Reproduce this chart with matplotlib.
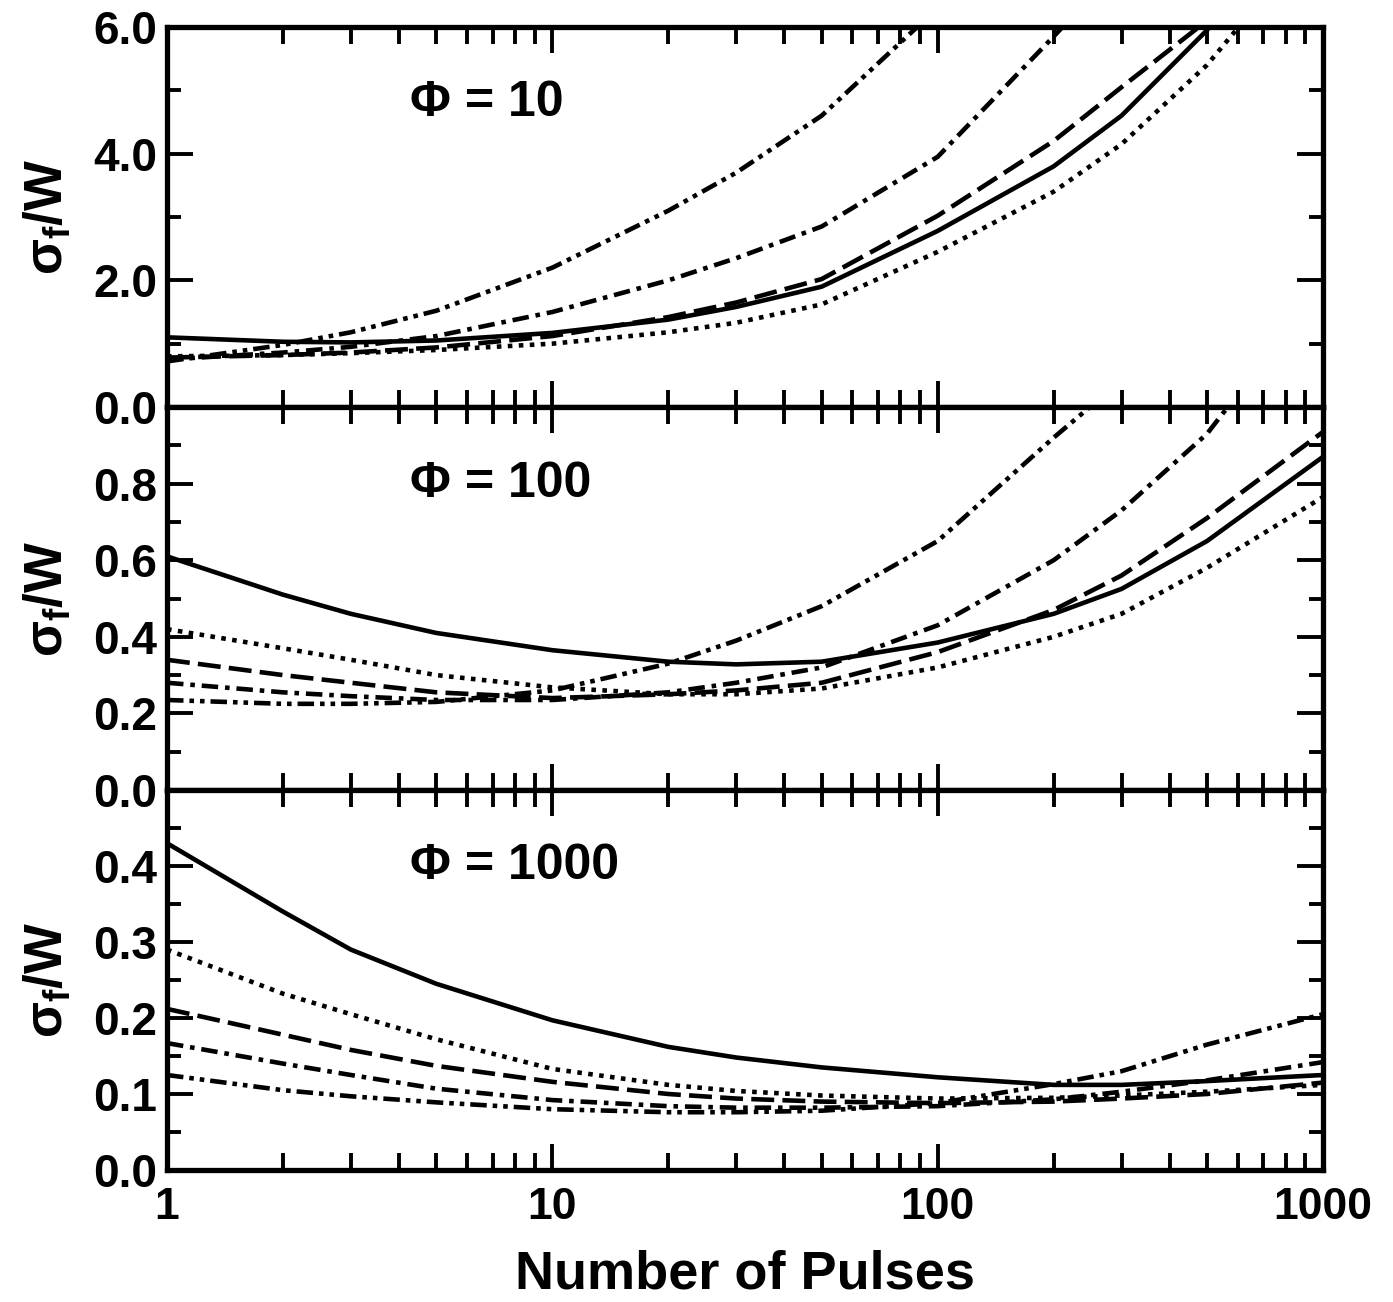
import matplotlib
matplotlib.use("Agg")
import matplotlib.pyplot as plt
from matplotlib.ticker import FixedLocator, NullFormatter

plt.rcParams['font.family'] = ['Liberation Sans', 'DejaVu Sans']
plt.rcParams['font.weight'] = 'bold'
plt.rcParams['mathtext.fontset'] = 'custom'
plt.rcParams['mathtext.rm'] = 'Liberation Sans:bold'
plt.rcParams['mathtext.it'] = 'Liberation Sans:bold'
plt.rcParams['mathtext.bf'] = 'Liberation Sans:bold'

# number of pulses
pulses = [1, 2, 3, 5, 10, 20, 30, 50, 100, 200, 300, 500, 1000]

# Phi = 10
phi10_solid = [1.10, 1.03, 1.02, 1.05, 1.17, 1.38, 1.58, 1.90, 2.78, 3.80, 4.60, 5.95, 8.3]
phi10_dot = [0.80, 0.82, 0.85, 0.90, 1.00, 1.18, 1.33, 1.62, 2.45, 3.40, 4.15, 5.40, 7.6]
phi10_dash = [0.78, 0.82, 0.86, 0.94, 1.12, 1.42, 1.65, 2.02, 3.02, 4.20, 5.05, 6.10, 8.8]
phi10_dashdot = [0.75, 0.86, 0.95, 1.12, 1.50, 2.00, 2.35, 2.85, 3.95, 5.85, 7.00, 9.0, 12.5]
phi10_dashdotdot = [0.72, 0.98, 1.18, 1.52, 2.20, 3.10, 3.70, 4.60, 6.30, 9.0, 11.0, 14.0, 18.0]

# Phi = 100
phi100_solid = [0.61, 0.51, 0.46, 0.41, 0.365, 0.335, 0.328, 0.335, 0.385, 0.46, 0.525, 0.65, 0.87]
phi100_dot = [0.42, 0.37, 0.34, 0.30, 0.268, 0.25, 0.25, 0.265, 0.32, 0.40, 0.46, 0.58, 0.765]
phi100_dash = [0.34, 0.30, 0.28, 0.255, 0.24, 0.25, 0.26, 0.28, 0.36, 0.47, 0.56, 0.71, 0.935]
phi100_dashdot = [0.28, 0.255, 0.245, 0.235, 0.235, 0.255, 0.28, 0.32, 0.43, 0.60, 0.73, 0.93, 1.32]
phi100_dashdotdot = [0.235, 0.225, 0.225, 0.23, 0.26, 0.33, 0.39, 0.48, 0.65, 0.92, 1.07, 1.4, 2.0]

# Phi = 1000
phi1000_solid = [0.43, 0.34, 0.29, 0.245, 0.197, 0.162, 0.148, 0.135, 0.122, 0.112, 0.112, 0.117, 0.125]
phi1000_dot = [0.29, 0.232, 0.205, 0.172, 0.133, 0.112, 0.104, 0.098, 0.094, 0.095, 0.098, 0.103, 0.112]
phi1000_dash = [0.212, 0.178, 0.158, 0.137, 0.116, 0.100, 0.094, 0.09, 0.088, 0.09, 0.094, 0.10, 0.115]
phi1000_dashdot = [0.167, 0.14, 0.125, 0.107, 0.092, 0.084, 0.082, 0.082, 0.084, 0.093, 0.103, 0.118, 0.142]
phi1000_dashdotdot = [0.125, 0.105, 0.097, 0.089, 0.08, 0.076, 0.076, 0.078, 0.088, 0.113, 0.13, 0.165, 0.205]

panel_labels = ['\u03a6 = 10', '\u03a6 = 100', '\u03a6 = 1000']
x_ticks = [1, 10, 100, 1000]
x_ticklabels = ['1', '10', '100', '1000']

styles = ['-',
          (0, (1.0, 1.4)),
          (0, (5.0, 1.8)),
          (0, (3.6, 1.5, 1.0, 1.5)),
          (0, (3.6, 1.3, 1.0, 1.3, 1.0, 1.3))]

panels = [
    ([phi10_solid, phi10_dot, phi10_dash, phi10_dashdot, phi10_dashdotdot], 6.0, [0, 2, 4, 6], [1, 3, 5]),
    ([phi100_solid, phi100_dot, phi100_dash, phi100_dashdot, phi100_dashdotdot], 1.0, [0, 0.2, 0.4, 0.6, 0.8], [0.1, 0.3, 0.5, 0.7, 0.9]),
    ([phi1000_solid, phi1000_dot, phi1000_dash, phi1000_dashdot, phi1000_dashdotdot], 0.5, [0, 0.1, 0.2, 0.3, 0.4], [0.05, 0.15, 0.25, 0.35, 0.45]),
]

W, H = 1393, 1302
fig = plt.figure(figsize=(W / 100, H / 100), dpi=100)

left = 167 / W
width = (1323 - 167) / W
tops = [27, 407, 790]
bottoms = [407, 790, 1170]

minor_x = [m * 10 ** d for d in range(3) for m in range(2, 10)]

for i, (series, ymax, majors, minors) in enumerate(panels):
    ax = fig.add_axes([left, 1 - bottoms[i] / H, width, (bottoms[i] - tops[i]) / H])
    for ys, ls in zip(series, styles):
        ax.plot(pulses, ys, color='black', lw=3.3, linestyle=ls, dash_capstyle='butt')
    ax.set_xscale('log')
    ax.set_xlim(1, 1000)
    ax.set_ylim(0, ymax)

    ax.xaxis.set_major_locator(FixedLocator(x_ticks))
    ax.xaxis.set_minor_locator(FixedLocator(minor_x))
    ax.xaxis.set_minor_formatter(NullFormatter())
    ax.yaxis.set_major_locator(FixedLocator(majors))
    ax.yaxis.set_minor_locator(FixedLocator(minors))
    ax.set_yticklabels(['%.1f' % v for v in majors])

    ax.tick_params(axis='both', which='both', direction='in', top=True, right=True, width=2.8)
    ax.tick_params(axis='x', which='major', length=19)
    ax.tick_params(axis='x', which='minor', length=12)
    ax.tick_params(axis='y', which='major', length=19)
    ax.tick_params(axis='y', which='minor', length=10)
    ax.tick_params(axis='y', labelsize=33, pad=7)
    ax.tick_params(axis='x', labelsize=32, pad=12)
    if i < 2:
        ax.set_xticklabels([])
    else:
        ax.set_xticklabels(x_ticklabels)
        ax.set_xlabel('Number of Pulses', fontsize=39, fontweight='bold', labelpad=16)

    for s in ax.spines.values():
        s.set_linewidth(3.8)

    ax.set_ylabel(r'$\sigma_f$/W', fontsize=38, fontweight='bold', labelpad=14)
    ax.text(0.21, 0.80, panel_labels[i], transform=ax.transAxes,
            fontsize=36, fontweight='bold', va='center', ha='left')

fig.savefig('out.png', dpi=100)
